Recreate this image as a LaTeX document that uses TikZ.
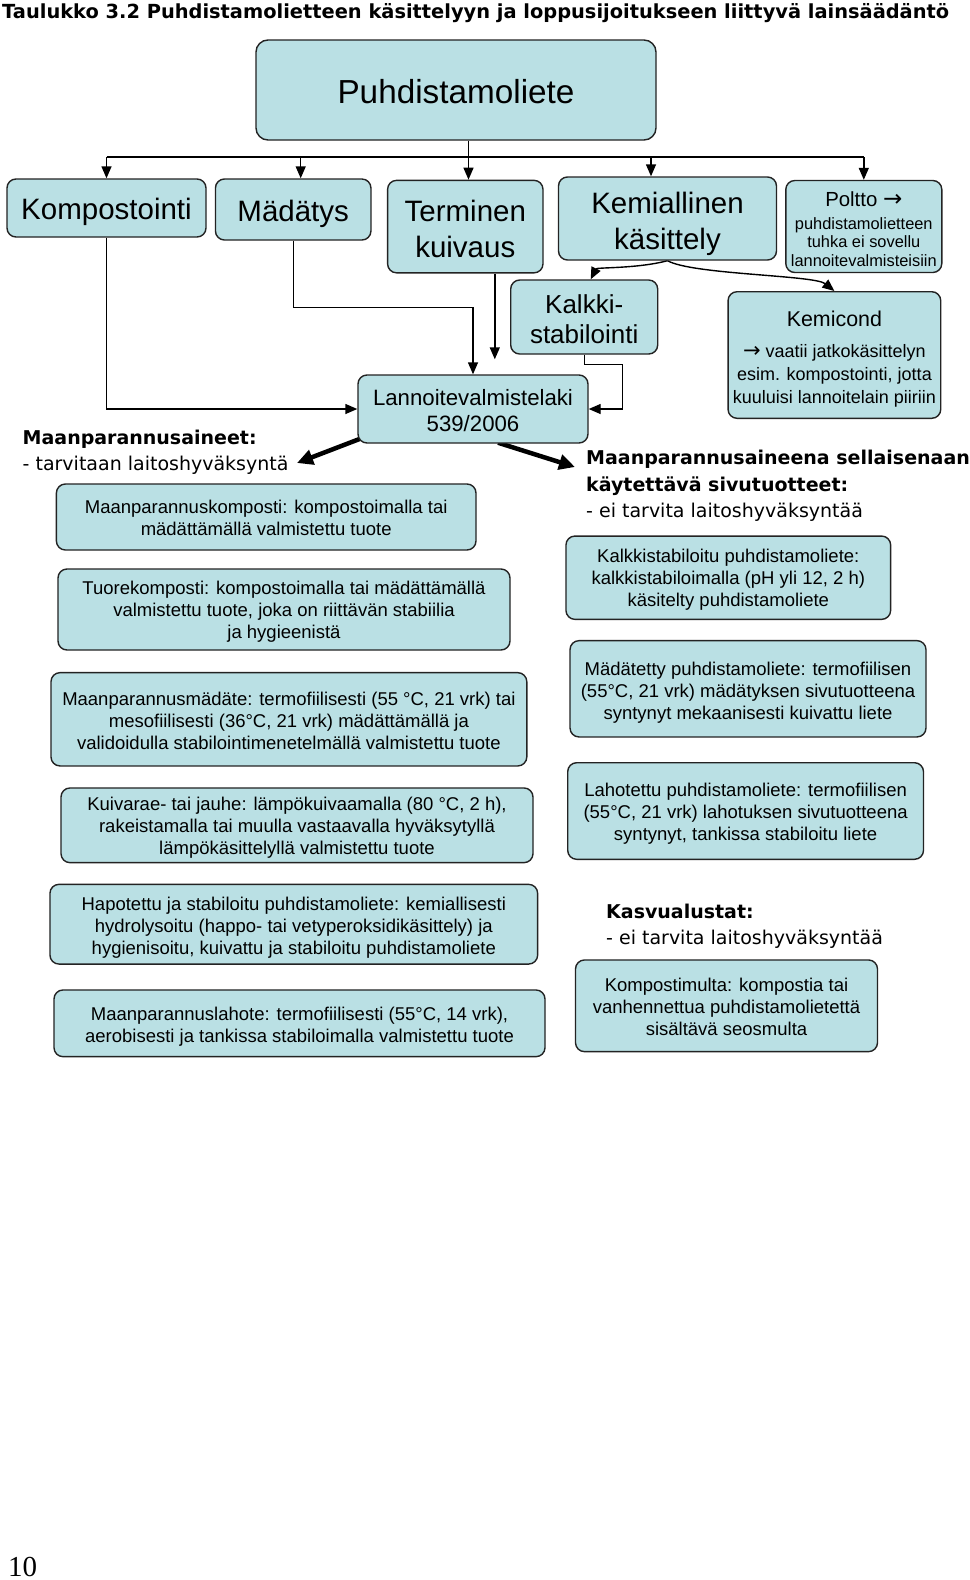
\documentclass[tikz,border=0pt]{standalone}
\usepackage{fontspec}
\setmainfont{Liberation Sans}
\newfontfamily\hdrfont{DejaVu Sans}
\newfontfamily\pagefont{Liberation Serif}
\usepackage{tikz}
\usetikzlibrary{arrows.meta,calc,backgrounds}
\definecolor{boxfill}{RGB}{186,224,228}
\definecolor{boxline}{RGB}{35,35,35}
\newcommand\arrowsign[1]{{\hdrfont\fontsize{#1}{10}\selectfont →}}

\begin{document}
\begin{tikzpicture}[
  x=1pt, y=-1pt,
  font=\fontsize{18.5}{22}\selectfont,
  >={Triangle[length=12pt,width=10pt]},
  lift/.style={execute at begin node={\rule{0pt}{#1}}},
  box/.style={draw=boxline, line width=1.4pt, fill=boxfill, rounded corners=9pt,
              align=center, inner sep=0pt},
  proc/.style={box, font=\fontsize{29.5}{36}\selectfont},
  leaf/.style={box, font=\fontsize{18.5}{22}\selectfont},
  hdr/.style={anchor=north west, align=left, inner sep=0pt,
              font=\hdrfont\fontsize{19}{26.5}\selectfont},
  arr/.style={->, line width=1.4pt},
  fat/.style={-{Triangle[length=16pt,width=15pt]}, line width=4.5pt},
]
\node[anchor=base west, inner sep=0pt, font=\hdrfont\bfseries\fontsize{19.4}{23}\selectfont] (title) at (2,18)
  {Taulukko 3.2 Puhdistamolietteen käsittelyyn ja loppusijoitukseen liittyvä lainsäädäntö};

\node[box, rounded corners=12pt, minimum width=400pt, minimum height=100pt, lift=27pt,
      font=\fontsize{33.3}{38}\selectfont] (r) at (456,90) {Puhdistamoliete};

\node[proc, lift=29.5pt, minimum width=199pt, minimum height=58pt] (p1) at (106.5,208) {Kompostointi};
\node[proc, lift=29.5pt, minimum width=155.5pt, minimum height=61pt] (p2) at (293.2,209.5) {Mädätys};
\node[proc, lift=62.5pt, minimum width=155.4pt, minimum height=92.5pt] (p3) at (465.3,226.6) {Terminen\\kuivaus};
\node[proc, lift=67.5pt, minimum width=218pt, minimum height=83pt] (p4) at (667.5,218.5) {Kemiallinen\\käsittely};
\node[box, lift=80pt, minimum width=156pt, minimum height=92pt, font=\fontsize{16.4}{18.7}\selectfont] (p5) at (863.8,226.5)
  {{\fontsize{20.4}{18.7}\selectfont Poltto \arrowsign{23}}\\[4.3pt]puhdistamolietteen\\tuhka ei sovellu\\lannoitevalmisteisiin};

\node[box, lift=53.5pt, minimum width=147pt, minimum height=74pt, font=\fontsize{26}{30.5}\selectfont] (k1) at (584.2,317)
  {Kalkki-\\stabilointi};
\node[box, lift=101pt, minimum width=212.7pt, minimum height=126.6pt, font=\fontsize{18}{23.2}\selectfont] (k2) at (834.4,355)
  {{\fontsize{21.4}{23.2}\selectfont Kemicond}\\[8pt]\arrowsign{21} vaatii jatkokäsittelyn\\esim. kompostointi, jotta\\kuuluisi lannoitelain piiriin};

\node[box, lift=46pt, minimum width=230pt, minimum height=68pt, font=\fontsize{22.2}{26}\selectfont] (lak) at (473,409)
  {Lannoitevalmistelaki\\539/2006};

\node[hdr] (hL) at (22.5,429.4) {\textbf{Maanparannusaineet:}\\- tarvitaan laitoshyväksyntä};
\node[hdr] (hR) at (586,450) {\textbf{Maanparannusaineena sellaisenaan}\\\textbf{käytettävä sivutuotteet:}\\- ei tarvita laitoshyväksyntää};
\node[hdr] (hK) at (606,903.6) {\textbf{Kasvualustat:}\\- ei tarvita laitoshyväksyntää};

\node[leaf, lift=37.5pt, minimum width=419.6pt, minimum height=66pt] (a1) at (266.2,517)
  {Maanparannuskomposti: kompostoimalla tai\\mädättämällä valmistettu tuote};
\node[leaf, lift=61.5pt, minimum width=452pt, minimum height=81pt] (a2) at (284,609.5)
  {Tuorekomposti: kompostoimalla tai mädättämällä\\valmistettu tuote, joka on riittävän stabiilia\\ja hygieenistä};
\node[leaf, lift=61.5pt, minimum width=475.8pt, minimum height=93.3pt] (a3) at (288.9,719.3)
  {Maanparannusmädäte: termofiilisesti (55 °C, 21 vrk) tai\\mesofiilisesti (36°C, 21 vrk) mädättämällä ja\\validoidulla stabilointimenetelmällä valmistettu tuote};
\node[leaf, lift=61.5pt, minimum width=472pt, minimum height=74.7pt] (a4) at (297,825.3)
  {Kuivarae- tai jauhe: lämpökuivaamalla (80 °C, 2 h),\\rakeistamalla tai muulla vastaavalla hyväksytyllä\\lämpökäsittelyllä valmistettu tuote};
\node[leaf, lift=63.5pt, minimum width=487.7pt, minimum height=79.7pt] (a5) at (293.8,924.2)
  {Hapotettu ja stabiloitu puhdistamoliete: kemiallisesti\\hydrolysoitu (happo- tai vetyperoksidikäsittely) ja\\hygienisoitu, kuivattu ja stabiloitu puhdistamoliete};
\node[leaf, lift=41.5pt, minimum width=491pt, minimum height=66.7pt] (a6) at (299.5,1023.3)
  {Maanparannuslahote: termofiilisesti (55°C, 14 vrk),\\aerobisesti ja tankissa stabiloimalla valmistettu tuote};

\node[leaf, lift=61.5pt, minimum width=324.7pt, minimum height=83.3pt] (b1) at (728.3,577.7)
  {Kalkkistabiloitu puhdistamoliete:\\kalkkistabiloimalla (pH yli 12, 2 h)\\käsitelty puhdistamoliete};
\node[leaf, lift=65.5pt, minimum width=356pt, minimum height=96.3pt] (b2) at (748,688.8)
  {Mädätetty puhdistamoliete: termofiilisen\\(55°C, 21 vrk) mädätyksen sivutuotteena\\syntynyt mekaanisesti kuivattu liete};
\node[leaf, lift=63.5pt, minimum width=355.8pt, minimum height=96.6pt] (b3) at (745.6,811)
  {Lahotettu puhdistamoliete: termofiilisen\\(55°C, 21 vrk) lahotuksen sivutuotteena\\syntynyt, tankissa stabiloitu liete};
\node[leaf, lift=59.5pt, minimum width=302pt, minimum height=91.7pt] (b4) at (726.5,1005.8)
  {Kompostimulta: kompostia tai\\vanhennettua puhdistamolietettä\\sisältävä seosmulta};

\node[anchor=base west, inner sep=0pt, font=\pagefont\fontsize{29}{32}\selectfont] (pg) at (8,1576.5) {10};

\coordinate (bus) at (468.5,157);
\coordinate (t2) at ($(p2.north)+(7.5,0)$);
\coordinate (t4) at ($(p4.north)+(-16.5,0)$);
\coordinate (t3) at ($(p3.south)+(29.5,0)$);
\coordinate (tipL) at (297,463);
\coordinate (tipR) at (575,467);

\begin{scope}[on background layer]
\path[use as bounding box, fill=white] (0,0) rectangle (960,1580);
\draw[arr] (r.south -| bus) -- (bus |- p3.north);
\draw[line width=1.4pt] (bus -| p1) -- (bus -| p5);
\draw[arr] (bus -| p1) -- (p1.north);
\draw[arr] (t2 |- bus) -- (t2);
\draw[arr] (t4 |- bus) -- (t4);
\draw[arr] (bus -| p5) -- (p5.north);

\draw[arr] (p1.south) |- (lak.west);
\draw[arr] (p2.south) -- ++(0,67) -| (lak.north);
\draw[arr, shorten >=15pt] (t3) -- (t3 |- lak.north);
\draw[arr] (k1.south) -- ++(0,10) -| ($(lak.east)+(33.5,0)$) -- (lak.east);

\draw[arr] (p4.south) .. controls ($(p4.south)+(-30,8)$) and ($(k1.north)+(12.5,-12)$) .. ([xshift=6.5pt]k1.north);
\draw[arr] (p4.south) .. controls ($(p4.south)+(25,14)$) and ($(k2.north)+(-20,-16)$) .. (k2.north);

\draw[fat] ($(lak.south west)+(3,-5)$) -- (tipL);
\draw[fat] ($(lak.south)+(25,-1)$) -- (tipR);
\end{scope}
\end{tikzpicture}
\end{document}
